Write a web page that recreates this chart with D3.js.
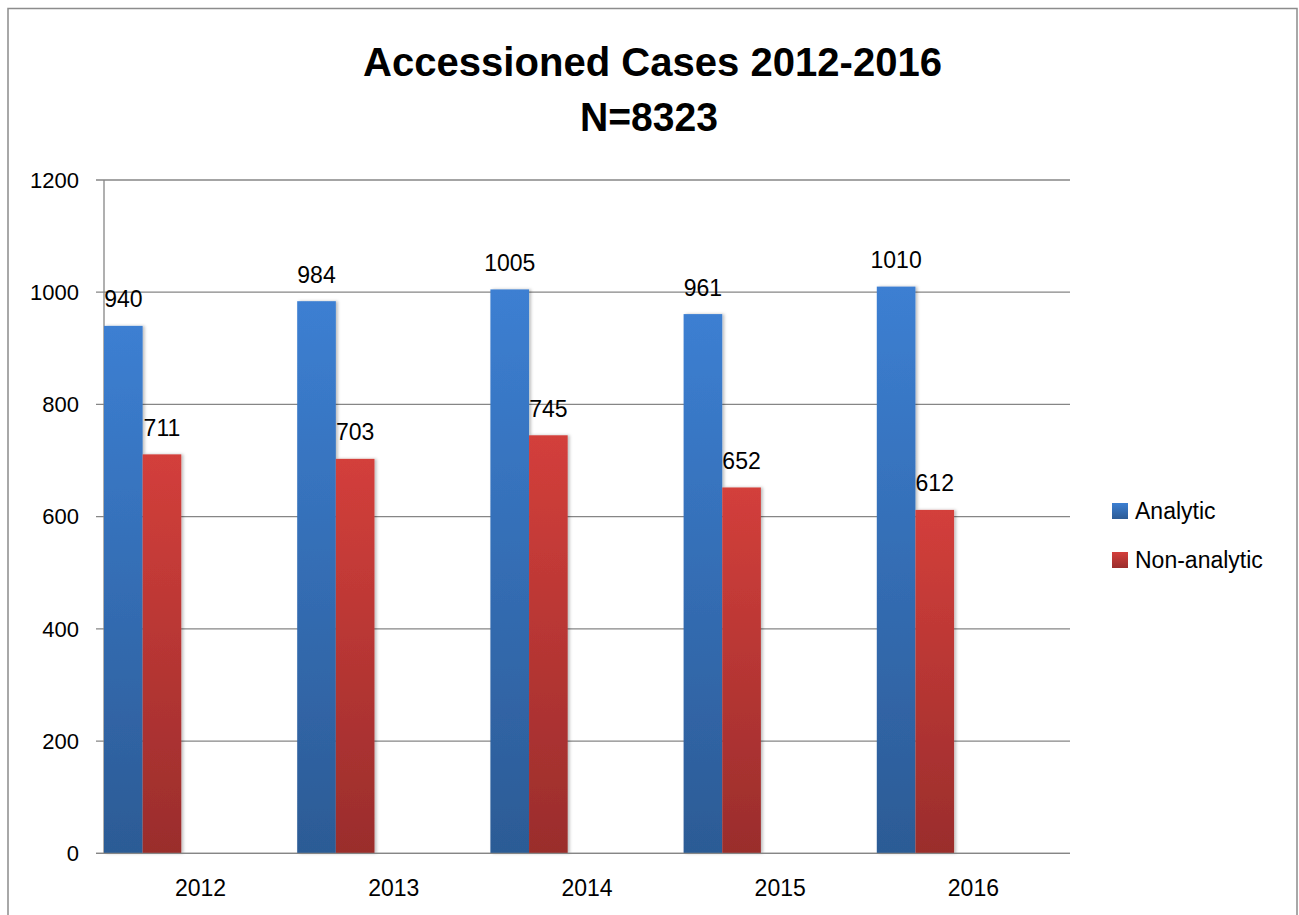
<!DOCTYPE html>
<html>
<head>
<meta charset="utf-8">
<script src="https://cdn.jsdelivr.net/npm/d3@7"></script>
<style>
  html, body { margin: 0; padding: 0; background: #fff; }
  svg { display: block; }
</style>
</head>
<body>
<svg id="chart" width="1299" height="915"></svg>
<script>
const categories = ["2012", "2013", "2014", "2015", "2016"];
const series = ["Analytic", "Non-analytic"];
const analytic = [940, 984, 1005, 961, 1010];
const nonAnalytic = [711, 703, 745, 652, 612];
const yTicks = [0, 200, 400, 600, 800, 1000, 1200];
const titleLines = ["Accessioned Cases 2012-2016", "N=8323"];

const values = { "Analytic": analytic, "Non-analytic": nonAnalytic };
const colors = {
  "Analytic": { top: "#3c7fd2", bottom: "#2c5b95" },
  "Non-analytic": { top: "#d33f3b", bottom: "#9a2d2c" }
};

const svg = d3.select("#chart");
const font = "'Liberation Sans', Arial, sans-serif";

// outer border
svg.append("path")
  .attr("d", "M8,920 L8,8.5 L1297,8.5 L1297,920")
  .attr("fill", "none").attr("stroke", "#8c8c8c").attr("stroke-width", 1.5);

const defs = svg.append("defs");
series.forEach((s, i) => {
  const g = defs.append("linearGradient").attr("id", "grad" + i)
    .attr("x1", 0).attr("y1", 0).attr("x2", 0).attr("y2", 1);
  g.append("stop").attr("offset", "0%").attr("stop-color", colors[s].top);
  g.append("stop").attr("offset", "100%").attr("stop-color", colors[s].bottom);
});
const filt = defs.append("filter").attr("id", "shadow")
  .attr("x", "-20%").attr("y", "-5%").attr("width", "150%").attr("height", "110%");
filt.append("feDropShadow").attr("dx", 2).attr("dy", 0).attr("stdDeviation", 1.5)
  .attr("flood-color", "#000").attr("flood-opacity", 0.25);

// title
const tl = svg.append("g").attr("font-family", font).attr("font-weight", "bold")
  .attr("fill", "#000");
tl.append("text").attr("x", 652.5).attr("y", 76).attr("text-anchor", "middle")
  .attr("font-size", 40).attr("textLength", 579).attr("lengthAdjust", "spacingAndGlyphs")
  .text(titleLines[0]);
tl.append("text").attr("x", 649).attr("y", 131).attr("text-anchor", "middle")
  .attr("font-size", 40).attr("textLength", 138).attr("lengthAdjust", "spacingAndGlyphs")
  .text(titleLines[1]);

// scales
const x = d3.scaleBand().domain(categories).range([104, 1070]).padding(0);
const xInner = d3.scaleBand().domain(series).range([0, x.bandwidth() * 2 / 5]).padding(0);
const y = d3.scaleLinear().domain([0, 1200]).range([853.3, 180]);

// gridlines
svg.append("g").selectAll("line").data(yTicks).join("line")
  .attr("x1", 96).attr("x2", 1070)
  .attr("y1", d => y(d)).attr("y2", d => y(d))
  .attr("stroke", "#868686").attr("stroke-width", 1.3);

// y axis line
svg.append("line").attr("x1", 104).attr("x2", 104).attr("y1", 180).attr("y2", 853.3)
  .attr("stroke", "#868686").attr("stroke-width", 1.3);

// y tick labels
svg.append("g").selectAll("text").data(yTicks).join("text")
  .attr("x", 79).attr("y", d => y(d)).attr("dy", "0.35em")
  .attr("text-anchor", "end").attr("font-family", font).attr("font-size", 22)
  .attr("fill", "#000").text(d => d);

// bars
const groups = svg.append("g").selectAll("g").data(categories).join("g")
  .attr("transform", d => `translate(${x(d)},0)`);
series.forEach((s, si) => {
  groups.append("rect")
    .attr("x", xInner(s))
    .attr("width", xInner.bandwidth())
    .attr("y", (d, i) => y(values[s][i]))
    .attr("height", (d, i) => y(0) - y(values[s][i]))
    .attr("fill", `url(#grad${si})`)
    .attr("filter", "url(#shadow)");
});
// redraw zero line over bar bottoms
svg.append("line").attr("x1", 96).attr("x2", 1070).attr("y1", y(0)).attr("y2", y(0))
  .attr("stroke", "#868686").attr("stroke-width", 1.3);

// value labels
series.forEach(s => {
  groups.append("text")
    .attr("x", xInner(s) + xInner.bandwidth() / 2)
    .attr("y", (d, i) => y(values[s][i]) - 18.5)
    .attr("text-anchor", "middle").attr("font-family", font).attr("font-size", 23)
    .attr("fill", "#000")
    .text((d, i) => values[s][i]);
});

// category labels
svg.append("g").selectAll("text").data(categories).join("text")
  .attr("x", d => x(d) + x.bandwidth() / 2).attr("y", 896)
  .attr("text-anchor", "middle").attr("font-family", font).attr("font-size", 23)
  .attr("fill", "#000").text(d => d);

// legend
const legend = svg.append("g").selectAll("g").data(series).join("g")
  .attr("transform", (d, i) => `translate(1112, ${503 + i * 49})`);
legend.append("rect").attr("width", 16).attr("height", 16)
  .attr("fill", (d, i) => `url(#grad${i})`);
legend.append("text").attr("x", 23).attr("y", 15.5)
  .attr("font-family", font).attr("font-size", 23).attr("fill", "#000")
  .text(d => d);
</script>
</body>
</html>
